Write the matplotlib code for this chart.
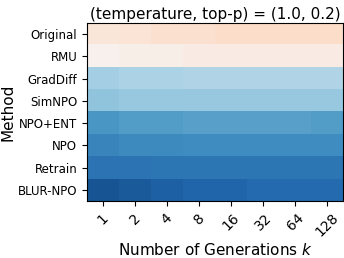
import numpy as np
import matplotlib
matplotlib.use("Agg")
import matplotlib.pyplot as plt

methods = ["Original", "RMU", "GradDiff", "SimNPO", "NPO+ENT", "NPO", "Retrain", "BLUR-NPO"]
generations = ["1", "2", "4", "8", "16", "32", "64", "128"]

original = [0.44, 0.43, 0.42, 0.42, 0.41, 0.41, 0.41, 0.41]
rmu = [0.48, 0.47, 0.47, 0.46, 0.46, 0.46, 0.46, 0.46]
graddiff = [0.67, 0.66, 0.66, 0.65, 0.65, 0.65, 0.65, 0.65]
simnpo = [0.70, 0.69, 0.69, 0.69, 0.69, 0.69, 0.69, 0.69]
npo_ent = [0.79, 0.78, 0.78, 0.77, 0.77, 0.77, 0.77, 0.78]
npo = [0.83, 0.82, 0.82, 0.81, 0.81, 0.81, 0.81, 0.81]
retrain = [0.87, 0.87, 0.86, 0.86, 0.86, 0.86, 0.86, 0.86]
blur_npo = [0.93, 0.92, 0.91, 0.90, 0.90, 0.89, 0.89, 0.89]

data = np.array([original, rmu, graddiff, simnpo, npo_ent, npo, retrain, blur_npo])

fig = plt.figure(figsize=(3.44, 2.58), dpi=100)
ax = fig.add_axes([0.253, 0.221, 0.744, 0.69])
ax.imshow(data, cmap="RdBu", vmin=0, vmax=1, aspect="auto", interpolation="nearest")

ax.set_xticks(range(len(generations)))
ax.set_xticklabels(generations, rotation=45, fontsize=10)
ax.set_yticks(range(len(methods)))
ax.set_yticklabels(methods, fontsize=8.5)
ax.set_xlabel("Number of Generations $k$", fontsize=11, labelpad=2)
ax.set_ylabel("Method", fontsize=11, labelpad=2)
ax.set_title("(temperature, top-p) = (1.0, 0.2)", fontsize=11, pad=3)

fig.savefig("out.png", dpi=100)
